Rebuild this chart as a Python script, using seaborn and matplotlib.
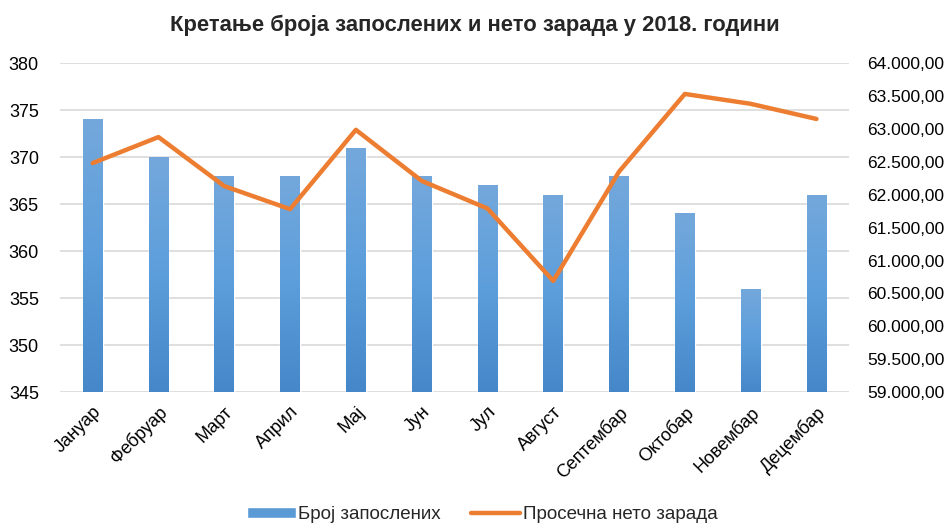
import numpy as np
import pandas as pd
import matplotlib
matplotlib.use("Agg")
import matplotlib.pyplot as plt
import matplotlib.ticker as mticker
from matplotlib.patches import Patch
from matplotlib.lines import Line2D
import seaborn as sns

# Podaci procitani sa grafika.
meseci = ["Јануар", "Фебруар", "Март", "Април", "Мај", "Јун", "Јул",
          "Август", "Септембар", "Октобар", "Новембар", "Децембар"]
broj_zaposlenih = [374, 370, 368, 368, 371, 368, 367, 366, 368, 364, 356, 366]
neto_zarada = [62480, 62875, 62130, 61780, 62985, 62210, 61790,
               60690, 62350, 63530, 63380, 63150]

sns.set_theme(style="white")
plt.rcParams["font.family"] = ["Liberation Sans", "DejaVu Sans"]

df = pd.DataFrame({"mesec": meseci, "zaposleni": broj_zaposlenih, "zarada": neto_zarada})

fig, ax = plt.subplots(figsize=(9.49, 5.25), dpi=100)
fig.subplots_adjust(left=0.063, right=0.895, top=0.88, bottom=0.253)

sns.barplot(data=df, x="mesec", y="zaposleni", color="#5b9bd5", width=0.3,
            saturation=1, ax=ax, zorder=2)
ax.set_ylim(345, 380)
ax.set_yticks(np.arange(345, 381, 5))

# Gradijent na stupcima (svetlije gore, tamnije dole).
gradijent = np.linspace(0, 1, 256).reshape(-1, 1)
cmap = matplotlib.colors.LinearSegmentedColormap.from_list("plava", ["#4587c8", "#5c9edb", "#74a8dc"])
for p in ax.patches:
    x0, y0 = p.get_x(), p.get_y()
    w, h = p.get_width(), p.get_height()
    im = ax.imshow(gradijent, cmap=cmap, aspect="auto", origin="lower",
                   extent=[x0, x0 + w, 345, y0 + h], zorder=2.1)
    im.set_clip_path(p)
ax.set_xlim(-0.5, 11.5)
ax.set_ylim(345, 380)

ax2 = ax.twinx()
sns.lineplot(data=df, x="mesec", y="zarada", color="#ed7d31", linewidth=3.2,
             sort=False, ax=ax2, zorder=3)
ax2.set_ylim(59000, 64000)
ax2.set_yticks(np.arange(59000, 64001, 500))
ax2.yaxis.set_major_formatter(mticker.FuncFormatter(
    lambda v, _: f"{v:,.2f}".replace(",", " ").replace(".", ",").replace(" ", ".")))

ax.yaxis.grid(True, color="#d9d9d9", linewidth=1.2, zorder=0)
ax.set_axisbelow(True)
for a in (ax, ax2):
    for s in a.spines.values():
        s.set_visible(False)
    a.set_xlabel("")
    a.set_ylabel("")
    a.tick_params(axis="both", length=0, labelsize=13, colors="#000000", pad=6)
ax.tick_params(axis="y", pad=15)
ax2.tick_params(axis="y", pad=13, labelsize=12.5)
ax.tick_params(axis="x", pad=8)
ax.set_zorder(ax2.get_zorder() - 1)
ax2.patch.set_visible(False)

plt.setp(ax.get_xticklabels(), rotation=45, ha="right", rotation_mode="anchor")

fig.suptitle("Кретање броја запослених и нето зарада у 2018. години",
             fontsize=15.8, fontweight="bold", y=0.972)

rukovanje = [Patch(facecolor="#5b9bd5", label="Број запослених"),
             Line2D([0], [0], color="#ed7d31", linewidth=3.2, label="Просечна нето зарада")]
fig.legend(handles=rukovanje, loc="lower center", ncol=2, frameon=False,
           fontsize=13.5, bbox_to_anchor=(0.508, -0.028), handlelength=2.6,
           handleheight=0.5, columnspacing=1.6, handletextpad=0.15)

fig.savefig("out.png", dpi=100)
